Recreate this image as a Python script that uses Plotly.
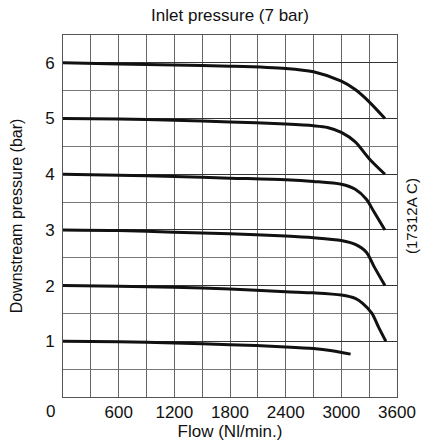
import plotly.graph_objects as go

# Flow (Nl/min) sample points and downstream pressure (bar) for each setting
flow_6 = [0, 600, 1200, 1800, 2400, 2700, 3000, 3150, 3300, 3470]
pres_6 = [6.0, 5.98, 5.96, 5.94, 5.90, 5.84, 5.67, 5.52, 5.30, 5.00]

flow_5 = [0, 600, 1200, 1800, 2400, 2700, 2850, 3000, 3150, 3300, 3470]
pres_5 = [5.0, 4.99, 4.97, 4.94, 4.90, 4.87, 4.84, 4.75, 4.58, 4.28, 4.00]

flow_4 = [0, 600, 1200, 1800, 2400, 2700, 3000, 3150, 3270, 3350, 3470]
pres_4 = [4.0, 3.98, 3.96, 3.93, 3.90, 3.87, 3.82, 3.73, 3.55, 3.33, 3.00]

flow_3 = [0, 600, 1200, 1800, 2400, 2700, 3000, 3150, 3270, 3350, 3470]
pres_3 = [3.0, 2.99, 2.96, 2.93, 2.89, 2.86, 2.81, 2.74, 2.60, 2.35, 2.00]

flow_2 = [0, 600, 1200, 1800, 2400, 2700, 3000, 3150, 3230, 3330, 3400, 3480]
pres_2 = [2.0, 1.99, 1.97, 1.94, 1.89, 1.87, 1.83, 1.77, 1.68, 1.50, 1.26, 1.00]

flow_1 = [0, 600, 1200, 1800, 2400, 2700, 2900, 3100]
pres_1 = [1.0, 0.99, 0.97, 0.94, 0.90, 0.87, 0.83, 0.77]

x_ticks = [0, 600, 1200, 1800, 2400, 3000, 3600]
y_ticks = [1, 2, 3, 4, 5, 6]

title_text = "Inlet pressure (7 bar)"
x_title = "Flow (Nl/min.)"
y_title = "Downstream pressure (bar)"
side_note = "(17312A C)"

FONT = "Liberation Sans, Arial, sans-serif"
fig = go.Figure()
for fx, py in [(flow_6, pres_6), (flow_5, pres_5), (flow_4, pres_4),
               (flow_3, pres_3), (flow_2, pres_2), (flow_1, pres_1)]:
    fig.add_trace(go.Scatter(x=fx, y=py, mode="lines",
                             line=dict(color="#111111", width=3, shape="spline", smoothing=0.8),
                             showlegend=False, hoverinfo="skip"))

fig.update_layout(
    width=423, height=448,
    margin=dict(l=63, r=26, t=35, b=51, autoexpand=False),
    paper_bgcolor="white", plot_bgcolor="white",
    font=dict(family=FONT, size=16, color="#111111"),
    title=dict(text=title_text, x=(63 + 397) / 2 / 423, xanchor="center", y=1 - 15 / 448, yanchor="middle",
               font=dict(size=17)),
)
fig.update_xaxes(
    range=[0, 3600], tickvals=x_ticks[1:], ticktext=[str(v) for v in x_ticks[1:]],
    showgrid=True, gridcolor="#666666", gridwidth=1,
    minor=dict(dtick=300, showgrid=True, gridcolor="#666666", gridwidth=1),
    showline=True, linecolor="#555555", linewidth=1, mirror=True,
    zeroline=False, ticks="", ticklabelstandoff=0, tickfont=dict(size=17),
    title=dict(text=x_title, font=dict(size=17), standoff=0),
)
fig.update_yaxes(
    range=[0, 6.5], tickvals=y_ticks, ticktext=[str(v) for v in y_ticks],
    showgrid=True, gridcolor="#333333", gridwidth=1,
    minor=dict(dtick=0.5, showgrid=True, gridcolor="#777777", gridwidth=1),
    showline=True, linecolor="#555555", linewidth=1, mirror=True,
    zeroline=False, ticks="", ticklabelstandoff=4, tickfont=dict(size=17),
    title=dict(text=y_title, font=dict(size=16), standoff=18),
)
# origin label (shared corner "0")
fig.add_annotation(x=x_ticks[0], y=0, xref="x", yref="y", text=str(x_ticks[0]), showarrow=False,
                   xshift=-13, yshift=-14, font=dict(size=17), xanchor="center", yanchor="middle")
fig.add_annotation(x=1, y=0.5, xref="paper", yref="paper", text=side_note, showarrow=False,
                   textangle=-90, xshift=14, font=dict(size=15), xanchor="center", yanchor="middle")

fig.write_html("out.html", config={"displayModeBar": False},
               post_script="document.body.style.margin='0';document.body.style.padding='0';")
